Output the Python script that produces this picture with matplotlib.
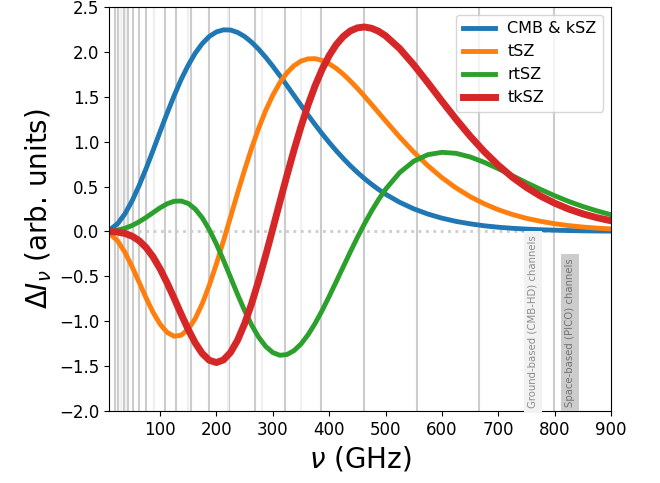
import matplotlib
matplotlib.use('Agg')
import matplotlib.pyplot as plt

# frequency grid (GHz) and curve values
nu = [10, 25, 37.5, 50, 62.5, 75, 87.5, 100,
      112.5, 125, 137.5, 150, 162.5, 175, 187.5, 200,
      212.5, 225, 237.5, 250, 262.5, 275, 287.5, 300,
      312.5, 325, 337.5, 350, 362.5, 375, 387.5, 400,
      412.5, 425, 437.5, 450, 462.5, 475, 487.5, 500,
      525, 550, 575, 600, 625, 650, 675, 700,
      725, 750, 775, 800, 825, 850, 875, 900]

cmb_ksz = [0.014, 0.088, 0.194, 0.335, 0.505, 0.696, 0.900, 1.110,
           1.316, 1.512, 1.693, 1.851, 1.986, 2.093, 2.172, 2.222,
           2.245, 2.243, 2.217, 2.171, 2.107, 2.029, 1.939, 1.840,
           1.735, 1.626, 1.515, 1.405, 1.296, 1.190, 1.088, 0.991,
           0.899, 0.813, 0.732, 0.658, 0.589, 0.526, 0.468, 0.415,
           0.325, 0.252, 0.194, 0.148, 0.112, 0.085, 0.063, 0.047,
           0.035, 0.026, 0.019, 0.014, 0.010, 0.007, 0.005, 0.004]

tsz = [-0.018, -0.107, -0.230, -0.387, -0.561, -0.737, -0.899, -1.032,
       -1.124, -1.167, -1.156, -1.089, -0.970, -0.803, -0.597, -0.362,
       -0.106, 0.160, 0.426, 0.685, 0.928, 1.150, 1.348, 1.516,
       1.656, 1.765, 1.845, 1.897, 1.922, 1.924, 1.905, 1.868,
       1.816, 1.751, 1.676, 1.594, 1.507, 1.416, 1.324, 1.232,
       1.052, 0.884, 0.733, 0.599, 0.485, 0.388, 0.308, 0.242,
       0.189, 0.146, 0.113, 0.086, 0.065, 0.049, 0.037, 0.028]

rtsz = [0.002, 0.015, 0.035, 0.065, 0.106, 0.155, 0.209, 0.263,
        0.308, 0.336, 0.339, 0.312, 0.249, 0.151, 0.019, -0.141,
        -0.320, -0.510, -0.701, -0.881, -1.043, -1.178, -1.281, -1.349,
        -1.379, -1.371, -1.328, -1.254, -1.151, -1.025, -0.881, -0.724,
        -0.560, -0.394, -0.228, -0.068, 0.084, 0.225, 0.354, 0.469,
        0.655, 0.782, 0.855, 0.881, 0.870, 0.830, 0.770, 0.699,
        0.621, 0.543, 0.468, 0.398, 0.334, 0.278, 0.229, 0.186]

tksz = [-0.001, -0.007, -0.022, -0.051, -0.101, -0.177, -0.282, -0.415,
        -0.572, -0.744, -0.922, -1.092, -1.242, -1.360, -1.435, -1.460,
        -1.431, -1.348, -1.212, -1.028, -0.803, -0.545, -0.265, 0.029,
        0.327, 0.621, 0.903, 1.166, 1.407, 1.621, 1.805, 1.958,
        2.080, 2.171, 2.233, 2.267, 2.277, 2.263, 2.230, 2.179,
        2.037, 1.856, 1.657, 1.451, 1.251, 1.062, 0.890, 0.737,
        0.604, 0.490, 0.394, 0.315, 0.249, 0.196, 0.153, 0.119]

# experiment channels (GHz)
pico_channels = [21, 25, 30, 36, 43, 52, 62, 75, 90, 108, 129, 155, 186, 223,
                 268, 321, 385, 462, 555, 666, 799]
cmbhd_channels = [30, 40, 90, 150, 220, 280, 350]

fig = plt.figure(figsize=(6.6, 4.83), dpi=100)
ax = fig.add_axes([0.1656, 0.149, 0.7602, 0.8366])

# channel markers
for c in pico_channels:
    ax.axvline(c, color='0.8', lw=1.5, zorder=0)
for c in cmbhd_channels:
    ax.axvline(c, color='0.94', lw=1.5, zorder=0)

ax.axhline(0, color='0.8', ls=':', lw=2, zorder=1)

ax.plot(nu, cmb_ksz, color='#1f77b4', lw=3.5, label='CMB & kSZ')
ax.plot(nu, tsz, color='#ff7f0e', lw=3.5, label='tSZ')
ax.plot(nu, rtsz, color='#2ca02c', lw=3.5, label='rtSZ')
ax.plot(nu, tksz, color='#d62728', lw=5, label='tkSZ')

ax.text(761, -1.965, 'Ground-based (CMB-HD) channels', rotation=90, ha='center',
        va='bottom', fontsize=7.3, color='0.55',
        bbox=dict(boxstyle='square,pad=0.4', fc='0.95', ec='none'))
ax.text(828, -1.955, 'Space-based (PICO) channels', rotation=90, ha='center',
        va='bottom', fontsize=7.3, color='0.45',
        bbox=dict(boxstyle='square,pad=0.4', fc='0.8', ec='none'))

ax.set_xlim(10, 900)
ax.set_ylim(-2.0, 2.5)
ax.set_xticks([100, 200, 300, 400, 500, 600, 700, 800, 900])
ax.set_yticks([-2.0, -1.5, -1.0, -0.5, 0.0, 0.5, 1.0, 1.5, 2.0, 2.5])
ax.tick_params(labelsize=12)
ax.set_xlabel(r'$\nu$ (GHz)', fontsize=20)
ax.set_ylabel(r'$\Delta I_\nu$ (arb. units)', fontsize=20)

ax.legend(loc='upper right', fontsize=11.5)

fig.savefig('out.png', dpi=100)
